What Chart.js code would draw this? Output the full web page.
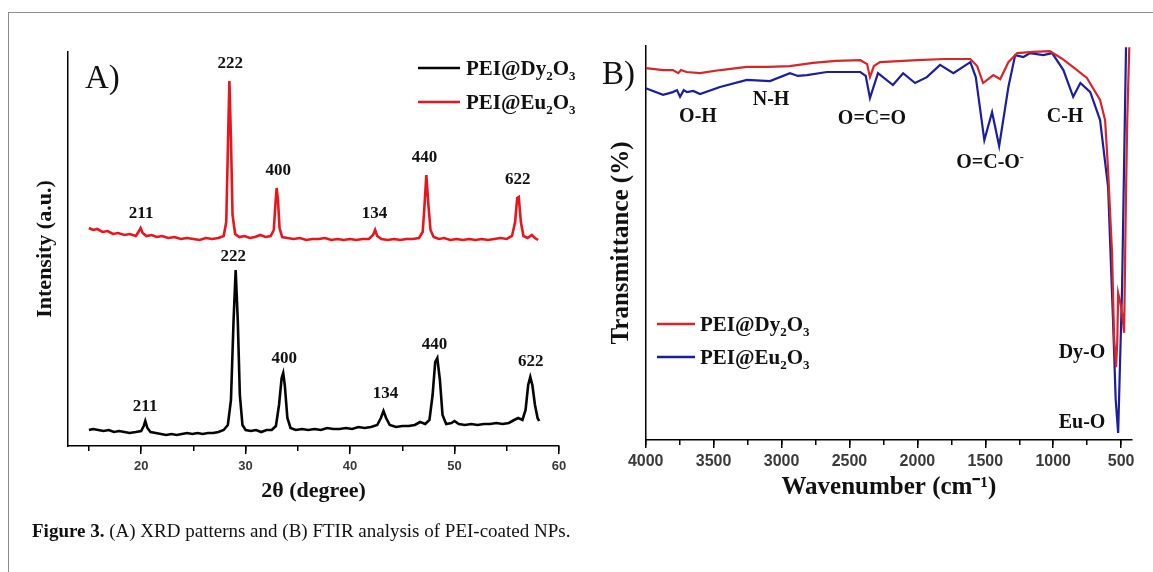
<!DOCTYPE html>
<html><head><meta charset="utf-8">
<script src="https://cdn.jsdelivr.net/npm/chart.js@4.4.0/dist/chart.umd.min.js"></script>
<style>
html,body{margin:0;padding:0;background:#fff;width:1153px;height:572px;overflow:hidden;position:relative;}
#frame{position:absolute;left:8px;top:12px;width:1300px;height:700px;border-left:1.5px solid #8c8c8c;border-top:1.5px solid #8c8c8c;}
#wrapA{position:absolute;left:0;top:0;width:580px;height:520px;}
#wrapB{position:absolute;left:580px;top:0;width:573px;height:520px;}
.panel{position:absolute;font-family:'Liberation Serif',serif;font-size:33px;line-height:34px;color:#111;}
#caption{position:absolute;left:32px;top:519px;font-family:'Liberation Serif',serif;font-size:19px;line-height:24px;color:#111;white-space:nowrap;}
</style></head>
<body>
<div id="frame"></div>
<div id="wrapA"><canvas id="chartA"></canvas></div>
<div id="wrapB"><canvas id="chartB"></canvas></div>
<div class="panel" style="left:85px;top:60px;">A)</div>
<div class="panel" style="left:602px;top:56px;">B)</div>
<div id="caption"><b>Figure 3.</b> (A) XRD patterns and (B) FTIR analysis of PEI-coated NPs.</div>
<script>
// ---------- Panel A: XRD ----------
const xrdTheta_Dy = [15.0,15.4,15.9,16.4,16.9,17.4,17.9,18.4,18.9,19.5, 20.0,20.25,20.4,20.6,20.9,21.4,21.9,22.4,22.9,23.4, 23.9,24.4,24.9,25.4,25.9,26.4,26.9,27.4,27.9,28.3, 28.6,28.85,29.05,29.25,29.45,29.7,30.0,30.5,31.0,31.5, 32.0,32.5,32.9,33.2,33.45,33.6,33.75,34.0,34.3,34.8, 35.4,36.0,36.6,37.2,37.8,38.4,39.0,39.6,40.2,40.8, 41.4,42.0,42.6,42.95,43.2,43.45,43.8,44.4,45.0,45.6, 46.2,46.7,47.2,47.6,47.9,48.15,48.35,48.6,48.85,49.2, 49.7,50.0,50.4,51.0,51.6,52.2,52.8,53.4,54.0,54.6, 55.2,55.7,56.1,56.5,56.8,57.05,57.25,57.45,57.7,57.95, 58.1];
const xrdInt_Dy = [16,17,16,15,16,14,15,14,13,14, 15,20,25,18,14,13,12,11,12,11, 12,13,12,13,12,13,13,14,16,21, 46,126,176,126,51,21,16,15,16,14, 16,16,20,41,68,73,61,28,18,16, 17,16,17,16,18,17,17,18,17,19, 18,19,21,28,35,28,21,19,20,20, 21,24,22,26,51,84,88,66,31,22, 23,25,22,21,22,21,22,22,23,22, 23,26,28,26,36,61,69,61,41,28, 25];
const xrdTheta_Eu = [15.0,15.4,15.8,16.3,16.8,17.3,17.8,18.4,18.9,19.5, 19.8,19.95,20.15,20.5,21.0,21.5,22.0,22.6,23.2,23.8, 24.4,25.0,25.6,26.2,26.8,27.4,27.9,28.15,28.3,28.45, 28.6,28.75,29.0,29.4,29.9,30.4,30.9,31.4,31.9,32.4, 32.7,32.85,32.97,33.1,33.25,33.5,34.0,34.6,35.2,35.8, 36.4,37.0,37.6,38.2,38.8,39.4,40.0,40.6,41.2,41.8, 42.2,42.4,42.6,43.0,43.6,44.2,44.8,45.4,46.0,46.6, 46.95,47.1,47.3,47.5,47.7,48.0,48.5,49.0,49.6,50.2, 50.8,51.4,52.0,52.6,53.2,53.8,54.4,55.0,55.5,55.8, 56.0,56.15,56.35,56.6,57.0,57.4,57.7,58.0];
const xrdInt_Eu = [218,216,217,214,215,212,213,211,212,210, 215,218,213,210,211,209,210,208,209,207, 208,207,206,208,207,208,210,224,296,365, 306,231,212,209,210,208,209,211,209,210, 216,241,258,246,218,209,208,207,208,206, 207,207,208,206,207,206,207,206,207,207, 211,216,210,207,206,207,206,207,207,208, 214,236,271,241,216,209,207,208,206,207, 206,207,206,207,206,207,208,207,210,224, 248,249,224,210,208,211,208,206];
const xrdMajorTicks = [20,30,40,50,60];
const xrdMinorTicks = [15,20,25,30,35,40,45,50,55,60];
const xrdPeakText = ['211','222','400','134','440','622'];
const xrdPeakX_Eu = [20.0,28.53,33.13,42.34,47.13,56.05];
const xrdPeakY_Eu = [234,384,277,234,290,268];
const xrdPeakX_Dy = [20.38,28.82,33.71,43.39,48.09,57.3];
const xrdPeakY_Dy = [41,191,89,54,103,86];
const xrdSeriesNames = ['PEI@Dy₂O₃','PEI@Eu₂O₃'];

// ---------- Panel B: FTIR ----------
const ftirWn_Dy = [4000,3870,3800,3760,3740,3700,3600,3450,3255,3100, 2940,2768,2600,2420,2370,2349,2320,2275,2000,1800, 1610,1560,1516,1441,1390,1330,1265,1148,1025,940, 855,752,655,618,596,567,552,537,528,522, 510,493,478,465,455,440];
const ftirT_Dy = [94.4,93.9,93.9,93.1,93.9,93.4,93.1,93.9,94.7,94.7, 94.9,95.7,96.2,96.4,95.4,92.1,94.9,95.9,96.4,96.7, 96.7,94.9,90.6,92.6,91.6,95.9,98.2,98.5,98.7,96.9, 94.7,91.9,86.3,81.2,68.5,47.5,26.1,18.5,25.4,37.3, 35.5,32.2,27.2,60.9,81.2,99.7];
const ftirWn_Eu = [4000,3872,3800,3770,3747,3720,3696,3650,3600,3453, 3255,3085,2938,2880,2813,2666,2420,2380,2349,2290, 2180,2105,2017,1930,1833,1735,1610,1570,1507,1450, 1398,1330,1280,1220,1170,1073,1008,925,853,800, 727,655,596,560,540,522,493,464];
const ftirT_Eu = [89.3,87.6,88.3,88.8,87.1,88.8,88.3,88.6,87.8,89.6, 91.4,91.1,93.1,92.4,92.6,93.4,93.4,92.4,86.8,93.1, 90.1,93.1,90.6,92.1,95.2,93.1,95.9,92.1,76.1,83.2, 74.6,89.6,97.7,97.2,98.2,97.7,98.2,93.9,87.1,90.6, 88.3,81.2,64.2,30.5,10.2,1.8,38.8,99.7];
const ftirMajorTicks = [500,1000,1500,2000,2500,3000,3500,4000];
const ftirMinorTicks = [500,750,1000,1250,1500,1750,2000,2250,2500,2750,3000,3250,3500,3750,4000];
const ftirBandText = ['O-H','N-H','O=C=O','O=C-O⁻','C-H','Dy-O','Eu-O'];
const ftirBandX = [3615,3077,2334,1465,913,788,788];
const ftirBandY = [82.5,86.8,82.0,70.6,82.5,22.6,4.6];
const ftirSeriesNames = ['PEI@Dy₂O₃','PEI@Eu₂O₃'];

// ---------- helpers ----------
const SERIF = "'Liberation Serif', 'Times New Roman', serif";
const SANS = "'Liberation Sans', Arial, sans-serif";
const SUB = {'₀':'0','₁':'1','₂':'2','₃':'3','₄':'4'};
const SUP = {'⁻':'-','¹':'1','²':'2'};
function drawRich(ctx, text, x, y, size, align) {
  const segs = [];
  for (const ch of text) {
    let type = 'n', c = ch;
    if (SUB[ch]) { type = 'sub'; c = SUB[ch]; }
    else if (SUP[ch]) { type = 'sup'; c = SUP[ch]; }
    const last = segs[segs.length - 1];
    if (last && last.type === type) last.t += c; else segs.push({type, t: c});
  }
  const fontFor = t => 'bold ' + (t === 'n' ? size : Math.round(size * 0.62)) + 'px ' + SERIF;
  let w = 0;
  segs.forEach(s => { ctx.font = fontFor(s.type); s.w = ctx.measureText(s.t).width; w += s.w; });
  let cx = align === 'center' ? x - w / 2 : (align === 'right' ? x - w : x);
  ctx.textAlign = 'left'; ctx.textBaseline = 'alphabetic';
  const base = y + size * 0.33;
  segs.forEach(s => {
    ctx.font = fontFor(s.type);
    const dy = s.type === 'sub' ? size * 0.22 : (s.type === 'sup' ? -size * 0.38 : 0);
    ctx.fillText(s.t, cx, base + dy);
    cx += s.w;
  });
}
function labelsPlugin(id, groups) {
  return {
    id,
    afterDatasetsDraw(chart) {
      const ctx = chart.ctx, xs = chart.scales.x, ys = chart.scales.y;
      ctx.save();
      ctx.fillStyle = '#111';
      groups.forEach(g => {
        g.text.forEach((t, i) => drawRich(ctx, t, xs.getPixelForValue(g.x[i]), ys.getPixelForValue(g.y[i]), g.size, 'center'));
      });
      ctx.restore();
    }
  };
}
function legendPlugin(id, layout) {
  return {
    id,
    afterDatasetsDraw(chart) {
      const ctx = chart.ctx;
      ctx.save();
      layout.order.forEach((di, row) => {
        const ds = chart.data.datasets[di];
        const y = layout.y[row];
        ctx.strokeStyle = ds.borderColor; ctx.lineWidth = 2.6;
        ctx.beginPath(); ctx.moveTo(layout.x0, y); ctx.lineTo(layout.x1, y); ctx.stroke();
        ctx.fillStyle = '#111';
        drawRich(ctx, ds.label, layout.tx, y, layout.size, 'left');
      });
      ctx.restore();
    }
  };
}
function toXY(xs, ys) { return xs.map((x, i) => ({x, y: ys[i]})); }
function setTicks(list) { return s => { s.ticks = list.map(v => ({value: v})); }; }
const plainLabel = v => String(v);

// ---------- Chart A ----------
new Chart(document.getElementById('chartA'), {
  type: 'line',
  data: { datasets: [
    {label: xrdSeriesNames[0], data: toXY(xrdTheta_Dy, xrdInt_Dy), borderColor: '#050505', borderWidth: 2.6, pointRadius: 0, tension: 0, fill: false},
    {label: xrdSeriesNames[1], data: toXY(xrdTheta_Eu, xrdInt_Eu), borderColor: '#e8161c', borderWidth: 2.6, pointRadius: 0, tension: 0, fill: false}
  ]},
  options: {
    responsive: true, maintainAspectRatio: false, animation: false, devicePixelRatio: 1,
    layout: {padding: {top: 52, right: 21, left: 0, bottom: 0}},
    plugins: {legend: {display: false}, tooltip: {enabled: false}},
    scales: {
      x: {type: 'linear', position: 'bottom', weight: 1, min: 13, max: 60,
          afterBuildTicks: setTicks(xrdMajorTicks), afterFit: s => { s.height = 74; },
          grid: {drawOnChartArea: false, color: '#000', lineWidth: 1.5, tickLength: 8},
          border: {color: '#000', width: 1.5},
          ticks: {font: {family: SANS, weight: 'bold', size: 13}, color: '#3a3a3a', padding: 5, maxRotation: 0, autoSkip: false, callback: plainLabel},
          title: {display: true, text: '2θ (degree)', color: '#111', font: {family: SERIF, weight: 'bold', size: 22}, padding: {top: 0, bottom: 15}}},
      xMinor: {type: 'linear', position: 'bottom', weight: 0, min: 13, max: 60,
          afterBuildTicks: setTicks(xrdMinorTicks), afterFit: s => { s.height = 0; },
          grid: {drawOnChartArea: false, color: '#000', lineWidth: 1.5, tickLength: 5},
          border: {display: false}, ticks: {display: false}},
      y: {type: 'linear', min: 0, max: 394, afterFit: s => { s.width = 68; },
          grid: {drawOnChartArea: false, drawTicks: false},
          border: {color: '#000', width: 1.5}, ticks: {display: false},
          title: {display: true, text: 'Intensity (a.u.)', color: '#111', font: {family: SERIF, weight: 'bold', size: 22}, padding: {top: 31.8, bottom: 0}}}
    }
  },
  plugins: [
    labelsPlugin('xrdLabels', [
      {text: xrdPeakText, x: xrdPeakX_Eu, y: xrdPeakY_Eu, size: 17},
      {text: xrdPeakText, x: xrdPeakX_Dy, y: xrdPeakY_Dy, size: 17}
    ]),
    legendPlugin('xrdLegend', {order: [0, 1], x0: 418, x1: 460, tx: 466, y: [68, 102], size: 21})
  ]
});

// ---------- Chart B ----------
new Chart(document.getElementById('chartB'), {
  type: 'line',
  data: { datasets: [
    {label: ftirSeriesNames[0], data: toXY(ftirWn_Dy, ftirT_Dy), borderColor: '#d6262a', borderWidth: 2.2, pointRadius: 0, tension: 0, fill: false},
    {label: ftirSeriesNames[1], data: toXY(ftirWn_Eu, ftirT_Eu), borderColor: '#1c1ea0', borderWidth: 2.2, pointRadius: 0, tension: 0, fill: false}
  ]},
  options: {
    responsive: true, maintainAspectRatio: false, animation: false, devicePixelRatio: 1,
    layout: {padding: {top: 46, right: 21, left: 0, bottom: 0}},
    plugins: {legend: {display: false}, tooltip: {enabled: false}},
    scales: {
      x: {type: 'linear', position: 'bottom', weight: 1, min: 420, max: 4000, reverse: true,
          afterBuildTicks: setTicks(ftirMajorTicks), afterFit: s => { s.height = 80; },
          grid: {drawOnChartArea: false, color: '#000', lineWidth: 1.5, tickLength: 8},
          border: {color: '#000', width: 1.5},
          ticks: {font: {family: SANS, weight: 'bold', size: 16}, color: '#3a3a3a', padding: 3.5, maxRotation: 0, autoSkip: false, callback: plainLabel},
          title: {display: true, text: 'Wavenumber (cm⁻¹)', color: '#111', font: {family: SERIF, weight: 'bold', size: 25}, padding: {top: 0, bottom: 17}}},
      xMinor: {type: 'linear', position: 'bottom', weight: 0, min: 420, max: 4000, reverse: true,
          afterBuildTicks: setTicks(ftirMinorTicks), afterFit: s => { s.height = 0; },
          grid: {drawOnChartArea: false, color: '#000', lineWidth: 1.5, tickLength: 5},
          border: {display: false}, ticks: {display: false}},
      y: {type: 'linear', min: 0, max: 100, afterFit: s => { s.width = 65.7; },
          grid: {drawOnChartArea: false, drawTicks: false},
          border: {color: '#000', width: 1.5}, ticks: {display: false},
          title: {display: true, text: 'Transmittance (%)', color: '#111', font: {family: SERIF, weight: 'bold', size: 25}, padding: {top: 27, bottom: 0}}}
    }
  },
  plugins: [
    labelsPlugin('ftirLabels', [{text: ftirBandText, x: ftirBandX, y: ftirBandY, size: 20}]),
    legendPlugin('ftirLegend', {order: [0, 1], x0: 77, x1: 115, tx: 120, y: [324, 357], size: 21})
  ]
});
</script>
</body></html>
